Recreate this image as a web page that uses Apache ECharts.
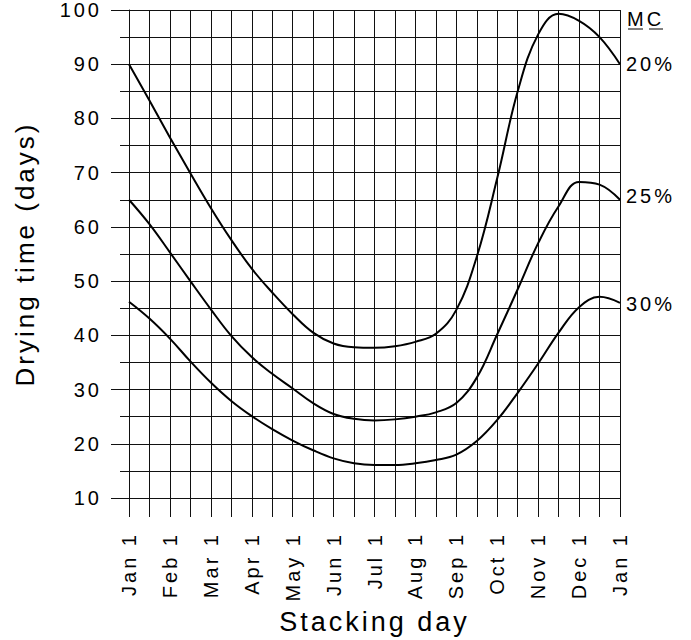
<!DOCTYPE html>
<html>
<head>
<meta charset="utf-8">
<script src="https://cdn.jsdelivr.net/npm/echarts@6/dist/echarts.min.js"></script>
<style>
  html, body { margin: 0; padding: 0; background: #fff; }
  #chart { width: 691px; height: 640px; }
  #chart text { letter-spacing: 3px; }
</style>
</head>
<body>
<div id="chart"></div>
<script>
// Stacking day position, in months from Jan 1 (half-month steps)
const stackMonths = [0, 0.5, 1, 1.5, 2, 2.5, 3, 3.5, 4, 4.5, 5, 5.5, 6, 6.5, 7, 7.5, 8, 8.5, 9, 9.5, 10, 10.5, 11, 11.5, 12];
// Drying time (days) for each moisture content
const mc20 = [90, 83.3, 76.5, 69.9, 63.5, 57.6, 52.3, 47.9, 43.9, 40.5, 38.5, 37.8, 37.7, 38.0, 38.8, 40.3, 44.7, 54.5, 69, 85, 95.5, 99.3, 98, 95, 90];
const mc25 = [65, 60.5, 55.3, 50, 44.8, 39.9, 36, 32.9, 30.2, 27.5, 25.5, 24.6, 24.3, 24.5, 25.0, 25.8, 27.5, 32.2, 40.2, 48.5, 57, 63.8, 68.3, 67.8, 65];
const mc30 = [46.2, 43.1, 39.4, 35.2, 31.3, 27.9, 25.1, 22.7, 20.6, 18.8, 17.3, 16.4, 16.1, 16.1, 16.4, 17.0, 18.0, 20.5, 24.4, 29.4, 34.8, 40.5, 45.2, 47.1, 46];
const monthLabels = ['Jan 1', 'Feb 1', 'Mar 1', 'Apr 1', 'May 1', 'Jun 1', 'Jul 1', 'Aug 1', 'Sep 1', 'Oct 1', 'Nov 1', 'Dec 1', 'Jan 1'];
const seriesNames = ['20%', '25%', '30%'];
const legendTitle = 'MC';

const FONT = 'Liberation Sans, Arial, sans-serif';
const LINE = '#111';

function pairs(ys) { return stackMonths.map((x, i) => [x, ys[i]]); }

const chart = echarts.init(document.getElementById('chart'), null, { renderer: 'svg' });
const labelOffsets = [[0, 0], [0, -4], [0, 1]];
const option = {
  animation: false,
  backgroundColor: '#fff',
  grid: { left: 129, right: 71, top: 8, bottom: 142, containLabel: false },
  xAxis: {
    type: 'value', min: 0, max: 12, interval: 1,
    name: 'Stacking day', nameLocation: 'middle', nameGap: 110,
    nameTextStyle: { fontFamily: FONT, fontSize: 27, color: '#000' },
    axisLine: { show: true, onZero: false, lineStyle: { color: LINE, width: 1 } },
    axisTick: { show: true, length: 19, lineStyle: { color: LINE, width: 1 } },
    minorTick: { show: true, splitNumber: 2, length: 19, lineStyle: { color: LINE, width: 1 } },
    splitLine: { show: true, lineStyle: { color: LINE, width: 1 } },
    minorSplitLine: { show: true, lineStyle: { color: LINE, width: 1 } },
    axisLabel: {
      rotate: 90, margin: 34, fontFamily: FONT, fontSize: 20, color: '#000',
      showMinLabel: true, showMaxLabel: true, hideOverlap: false,
      formatter: v => monthLabels[Math.round(v)]
    }
  },
  yAxis: {
    type: 'value', min: 10, max: 100, interval: 10,
    name: 'Drying time (days)', nameLocation: 'middle', nameGap: 91, nameRotate: 90,
    nameTextStyle: { fontFamily: FONT, fontSize: 26, color: '#000' },
    axisLine: { show: true, lineStyle: { color: LINE, width: 1 } },
    axisTick: { show: true, length: 18, lineStyle: { color: LINE, width: 1 } },
    minorTick: { show: true, splitNumber: 2, length: 9, lineStyle: { color: LINE, width: 1 } },
    splitLine: { show: true, lineStyle: { color: LINE, width: 1 } },
    minorSplitLine: { show: true, lineStyle: { color: LINE, width: 1 } },
    axisLabel: { margin: 27, fontFamily: FONT, fontSize: 20, color: '#000' }
  },
  graphic: [
    { type: 'text', left: 627, top: 9, style: { text: legendTitle, font: '20px ' + FONT, fill: '#000' } },
    { type: 'line', shape: { x1: 628, y1: 29, x2: 643, y2: 29 }, style: { stroke: '#000', lineWidth: 1 } },
    { type: 'line', shape: { x1: 649, y1: 29, x2: 663, y2: 29 }, style: { stroke: '#000', lineWidth: 1 } }
  ],
  series: [mc20, mc25, mc30].map((d, i) => ({
    name: seriesNames[i],
    type: 'line',
    data: pairs(d),
    smooth: 0.4,
    showSymbol: false,
    symbol: 'none',
    lineStyle: { color: '#000', width: 2 },
    endLabel: {
      show: true, formatter: seriesNames[i], distance: 6, offset: labelOffsets[i],
      fontFamily: FONT, fontSize: 20, color: '#000'
    }
  }))
};
chart.setOption(option);
</script>
</body>
</html>
